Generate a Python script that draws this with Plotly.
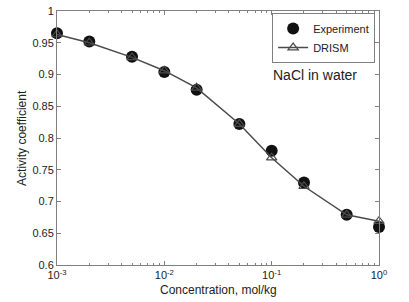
import plotly.graph_objects as go

conc = [0.001, 0.002, 0.005, 0.01, 0.02, 0.05, 0.1, 0.2, 0.5, 1.0]
experiment = [0.965, 0.952, 0.928, 0.904, 0.876, 0.822, 0.780, 0.730, 0.679, 0.660]
drism = [0.963, 0.950, 0.927, 0.906, 0.879, 0.822, 0.769, 0.724, 0.679, 0.669]

x_tickvals = [0.001, 0.01, 0.1, 1]
x_ticktext = ["10<sup>-3</sup>", "10<sup>-2</sup>", "10<sup>-1</sup>", "10<sup>0</sup>"]
y_tickvals = [0.6, 0.65, 0.7, 0.75, 0.8, 0.85, 0.9, 0.95, 1.0]
y_ticktext = ["0.6", "0.65", "0.7", "0.75", "0.8", "0.85", "0.9", "0.95", "1"]
minor_vals = [m * 10 ** e for e in (-3, -2, -1) for m in range(2, 10)]

font = "Liberation Sans, Arial, sans-serif"

fig = go.Figure()
fig.add_trace(go.Scatter(
    x=conc, y=experiment, mode="markers", name="Experiment", cliponaxis=False,
    marker=dict(symbol="circle", size=12, color="#111111"),
))
fig.add_trace(go.Scatter(
    x=conc, y=drism, mode="lines+markers", name="DRISM", cliponaxis=False,
    line=dict(color="#4a4a4a", width=1.5),
    marker=dict(symbol="triangle-up-open", size=9, color="#4a4a4a", line=dict(width=1.2)),
))

axis_common = dict(
    showline=True, linecolor="#808080", linewidth=1, mirror="ticks",
    ticks="inside", tickcolor="#808080", ticklen=4, showgrid=False, zeroline=False,
    tickfont=dict(family=font, size=11, color="#222"), automargin=False,
    ticklabeloverflow="allow",
)

fig.update_xaxes(
    type="log", range=[-3, 0], tickmode="array", tickvals=x_tickvals, ticktext=x_ticktext,
    minor=dict(ticks="inside", ticklen=2, tickcolor="#808080", tickmode="array", tickvals=minor_vals),
    **axis_common,
)
fig.update_yaxes(
    range=[0.6, 1.0], tickmode="array", tickvals=y_tickvals, ticktext=y_ticktext,
    **axis_common,
)

fig.add_annotation(
    x=0.5, y=-0.098, xref="paper", yref="paper", text="Concentration, mol/kg", showarrow=False,
    font=dict(family=font, size=12, color="#222"), xanchor="center", yanchor="middle",
)
fig.add_annotation(
    x=-0.109, y=0.5, xref="paper", yref="paper", text="Activity coefficient", showarrow=False,
    textangle=-90, font=dict(family=font, size=12, color="#222"), xanchor="center", yanchor="middle",
)
fig.add_annotation(
    x=0.80, y=0.748, xref="paper", yref="paper", text="NaCl in water", showarrow=False,
    font=dict(family=font, size=14, color="#222"), xanchor="center", yanchor="middle",
)

fig.update_layout(
    width=409, height=302,
    margin=dict(l=57, r=30, t=11, b=37, autoexpand=False),
    paper_bgcolor="white", plot_bgcolor="white",
    showlegend=True,
    legend=dict(
        x=0.988, y=0.992, xanchor="right", yanchor="top",
        bordercolor="#808080", borderwidth=1, bgcolor="white",
        font=dict(family=font, size=11, color="#222"),
        tracegroupgap=0, itemwidth=30,
    ),
)

# Remove the browser's default 8px body margin so the figure fills the window.
fig.write_html(
    "out.html",
    config={"displayModeBar": False},
    post_script="document.body.style.margin='0';document.body.style.overflow='hidden';",
)
